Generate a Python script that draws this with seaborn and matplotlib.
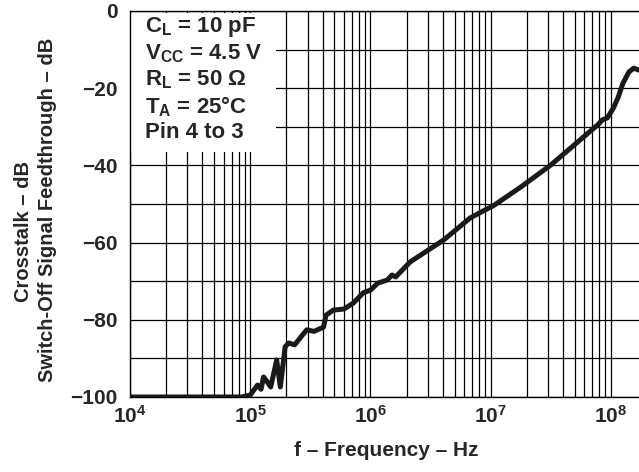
import numpy as np
import matplotlib
matplotlib.use("Agg")
import matplotlib.pyplot as plt
import seaborn as sns
from matplotlib.patches import Rectangle
from matplotlib.ticker import LogLocator, FixedLocator, NullFormatter

# curve
freq = [1.0e4, 8.5e4, 1.0e5, 1.15e5, 1.23e5, 1.29e5, 1.38e5, 1.48e5, 1.66e5, 1.78e5,
        1.95e5, 2.09e5, 2.34e5, 2.63e5, 2.95e5, 3.39e5, 4.07e5, 4.27e5, 4.9e5, 6.03e5,
        7.24e5, 8.71e5, 1.0e6, 1.15e6, 1.38e6, 1.51e6, 1.62e6, 2.14e6, 4.07e6, 6.76e6,
        1.07e7, 1.78e7, 3.16e7, 7.76e7, 8.51e7, 9.33e7, 1.05e8, 1.15e8, 1.26e8, 1.41e8,
        1.55e8, 1.70e8]
db = [-100, -100, -99.5, -96.9, -98, -94.8, -96, -97.4, -90.4, -97.4,
      -87, -86, -86.5, -84.5, -82.6, -83, -81.9, -78.8, -77.5, -77.2,
      -75.6, -73, -72.3, -70.5, -69.7, -68.4, -68.9, -65, -59.3, -53.6,
      -50.3, -45.6, -39.9, -29.5, -28.2, -27.7, -25.1, -22.3, -18.7, -15.8,
      -14.8, -15.3]

x_ticks = [1e4, 1e5, 1e6, 1e7, 1e8]
x_labels = [r"$\mathbf{10^{4}}$", r"$\mathbf{10^{5}}$", r"$\mathbf{10^{6}}$",
            r"$\mathbf{10^{7}}$", r"$\mathbf{10^{8}}$"]
y_ticks = [0, -20, -40, -60, -80, -100]
y_labels = ["0", "\u221220", "\u221240", "\u221260", "\u221280", "\u2212100"]

conditions = [r"$\mathbf{C_L}$ = 10 pF", r"$\mathbf{V_{CC}}$ = 4.5 V",
              r"$\mathbf{R_L}$ = 50 $\Omega$", r"$\mathbf{T_A}$ = 25°C", "Pin 4 to 3"]

sns.set_style("white")
plt.rcParams["font.family"] = ["Liberation Sans", "DejaVu Sans"]
plt.rcParams["font.weight"] = "bold"
plt.rcParams["mathtext.fontset"] = "custom"
plt.rcParams["mathtext.rm"] = "Liberation Sans"
plt.rcParams["mathtext.bf"] = "Liberation Sans:bold"
plt.rcParams["mathtext.it"] = "Liberation Sans:italic"

fig = plt.figure(figsize=(6.39, 4.72), dpi=100)
ax = fig.add_axes([130 / 639, 1 - 397 / 472, 512 / 639, 386 / 472])

sns.lineplot(x=freq, y=db, ax=ax, color="#1a1a1a", linewidth=3.6, sort=False,
             estimator=None, zorder=3)

ax.set_xscale("log")
ax.set_xlim(1e4, 10 ** (4 + 511 / 120))
ax.set_ylim(-100, 0)

ax.xaxis.set_major_locator(FixedLocator(x_ticks))
ax.set_xticklabels(x_labels)
ax.xaxis.set_minor_locator(LogLocator(base=10, subs=np.arange(2, 10)))
ax.xaxis.set_minor_formatter(NullFormatter())
ax.set_yticks(y_ticks)
ax.set_yticklabels(y_labels)
ax.yaxis.set_minor_locator(FixedLocator([-10, -30, -50, -70, -90]))

ax.set_axisbelow(True)
ax.grid(which="both", color="black", linewidth=0.9)
ax.tick_params(which="both", length=0)
ax.tick_params(axis="y", labelsize=15, pad=9)
ax.tick_params(axis="x", labelsize=15, pad=6)

for s in ["left", "bottom", "top"]:
    ax.spines[s].set_color("black")
    ax.spines[s].set_linewidth(1.0)
ax.spines["right"].set_visible(False)

# white box behind condition text
ax.add_patch(Rectangle((0, 1 - 141 / 386), 145 / 510, 139 / 386, transform=ax.transAxes,
                       facecolor="white", edgecolor="none", zorder=1.5))
for i, t in enumerate(conditions):
    ax.text(15 / 510, 1 - (16 + i * 26.5) / 386, t, transform=ax.transAxes,
            fontsize=16, fontweight="bold", va="center", ha="left", zorder=4)

ax.set_xlabel("f \u2013 Frequency \u2013 Hz", fontsize=15, fontweight="bold", labelpad=10)
fig.text(24 / 639, 1 - 232 / 472, "Crosstalk \u2013 dB", rotation=90, fontsize=14.5,
         fontweight="bold", ha="center", va="center")
fig.text(47.5 / 639, 1 - 210 / 472, "Switch-Off Signal Feedthrough \u2013 dB", rotation=90,
         fontsize=14.5, fontweight="bold", ha="center", va="center")

fig.savefig("out.png", dpi=100)
